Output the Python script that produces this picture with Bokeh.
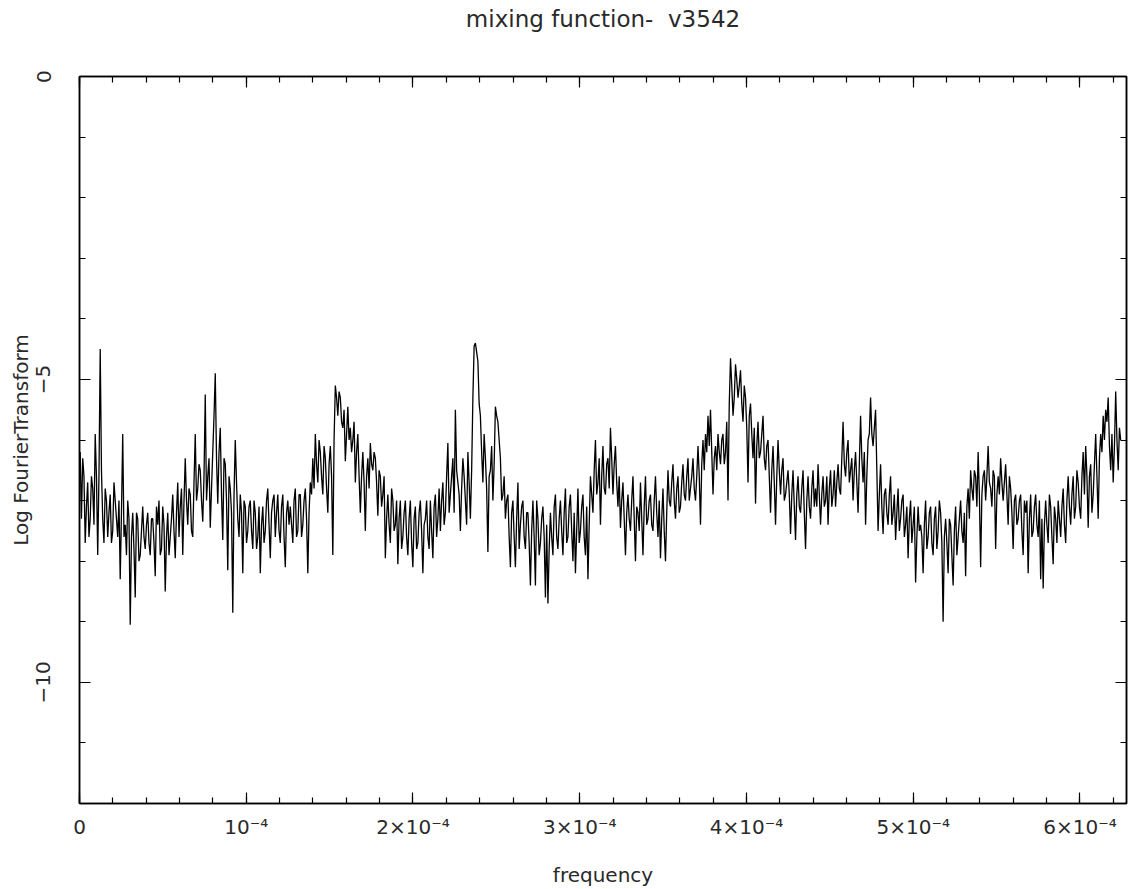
from bokeh.plotting import figure
from bokeh.models import FixedTicker, Range1d, LinearAxis, CustomJSTickFormatter
from bokeh.embed import file_html
from bokeh.resources import INLINE

TITLE = "mixing function- \u00a0v3542"
X_LABEL = "frequency"
Y_LABEL = "Log FourierTransform"

# uniform FFT frequency grid; each segment holds 42 bins (even bins + odd bins)
FREQ_START = 4.2e-7
FREQ_STEP = 1.5e-6
SEG_SPAN = 6.3e-5

# log10 |FT| of the mixing function: even bins of each segment
seg_01 = [-6.2, -6.3, -7.7, -6.7, -7.3, -6.8, -5.9, -7.9, -4.5, -7.3,
          -6.8, -7.6, -6.9, -7.5, -7.0, -7.6, -8.3, -5.9, -7.4, -7.0,
          -9.05, -7.2, -8.6, -7.3, -7.9, -7.1, -7.8, -7.2, -7.9, -7.3,
          -8.25, -7.4, -7.9, -7.1, -8.5, -7.2, -7.6, -6.9, -7.95, -6.7,
          -7.1, -7.9]
seg_02 = [-6.3, -7.4, -6.9, -7.6, -5.9, -6.8, -6.5, -7.35, -5.25, -6.6,
          -7.45, -6.2, -4.9, -7.05, -5.8, -7.65, -6.4, -8.15, -6.8, -8.85,
          -6.0, -7.3, -6.9, -8.2, -7.1, -7.5, -7.0, -7.8, -7.2, -7.6,
          -8.2, -7.1, -7.5, -6.8, -7.95, -7.0, -7.6, -6.9, -7.7, -6.9,
          -8.1, -7.0]
seg_03 = [-7.1, -7.7, -6.8, -7.5, -6.9, -7.4, -6.8, -8.2, -6.7, -6.3,
          -5.9, -6.7, -6.2, -6.9, -6.3, -7.2, -6.1, -7.9, -5.1, -5.6,
          -5.3, -5.8, -6.35, -5.45, -5.8, -6.0, -6.7, -5.9, -7.2, -6.2,
          -7.5, -6.3, -6.05, -6.5, -6.3, -7.25, -6.6, -6.9, -7.95, -6.9,
          -7.7, -7.0]
seg_04 = [-7.4, -8.05, -7.0, -7.6, -7.0, -7.9, -7.0, -8.1, -7.1, -7.7,
          -7.0, -8.2, -7.3, -7.6, -7.0, -7.95, -6.9, -7.3, -7.5, -6.7,
          -7.2, -6.05, -6.9, -6.3, -5.5, -6.7, -7.5, -6.3, -7.0, -6.2,
          -7.3, -5.3, -4.4, -4.7, -5.6, -6.7, -6.3, -7.85, -6.5, -7.0,
          -5.45, -5.7]
seg_05 = [-6.3, -6.9, -7.3, -6.9, -8.1, -7.0, -8.1, -6.7, -7.4, -7.0,
          -7.8, -7.2, -8.4, -7.0, -8.4, -7.3, -7.7, -7.1, -8.6, -8.7,
          -7.2, -7.9, -6.9, -7.8, -7.0, -7.9, -6.8, -7.6, -6.9, -8.0,
          -8.2, -6.8, -7.5, -6.9, -7.9, -8.3, -6.6, -7.2, -6.0, -6.7,
          -7.4, -6.1]
seg_06 = [-6.9, -6.3, -5.8, -6.9, -6.1, -7.1, -7.45, -6.7, -7.9, -6.9,
          -7.5, -6.6, -8.0, -7.2, -6.7, -7.9, -6.6, -7.3, -6.9, -7.5,
          -6.6, -7.6, -7.95, -6.8, -8.0, -6.5, -7.1, -6.4, -7.3, -6.6,
          -7.1, -6.4, -7.0, -6.3, -6.8, -6.3, -7.0, -6.1, -7.4, -6.0,
          -5.9, -5.6]
seg_07 = [-5.5, -6.9, -6.1, -5.9, -6.4, -5.9, -6.2, -7.0, -4.65, -5.6,
          -4.75, -5.3, -4.85, -5.7, -5.3, -6.7, -5.4, -6.3, -7.05, -5.7,
          -6.2, -5.6, -6.5, -6.0, -7.2, -6.1, -7.4, -6.0, -6.9, -6.3,
          -6.9, -6.5, -7.55, -6.5, -7.65, -6.6, -7.2, -6.5, -7.8, -6.6,
          -7.3, -6.5]
seg_08 = [-6.8, -6.4, -7.4, -6.6, -7.0, -7.4, -6.5, -6.9, -7.1, -6.4,
          -6.9, -5.7, -6.6, -6.0, -6.5, -7.0, -6.2, -7.2, -5.6, -6.7,
          -7.4, -6.0, -5.3, -6.1, -5.5, -7.5, -6.4, -7.55, -6.8, -7.4,
          -6.6, -7.2, -7.65, -6.8, -7.3, -6.9, -7.4, -7.95, -7.0, -7.4,
          -8.35, -7.1]
seg_09 = [-7.4, -8.2, -7.0, -7.6, -7.1, -7.9, -7.1, -7.5, -7.2, -9.0,
          -7.3, -8.2, -7.4, -8.4, -7.1, -7.6, -7.0, -7.7, -8.25, -6.8,
          -6.5, -7.0, -6.6, -6.2, -8.1, -6.6, -7.0, -6.1, -6.8, -6.5,
          -7.8, -6.6, -6.3, -7.0, -6.4, -7.4, -6.8, -7.8, -6.9, -7.3,
          -6.9, -7.9]
seg_10 = [-7.2, -8.2, -6.9, -7.5, -6.9, -7.6, -8.3, -8.45, -7.0, -7.7,
          -7.1, -8.05, -7.3, -7.0, -7.6, -6.8, -7.7, -6.6, -7.4, -6.6,
          -7.1, -6.7, -7.3, -6.2, -6.1, -7.45, -6.4, -6.9, -5.9, -7.3,
          -5.9, -5.6, -5.5, -5.3, -6.5, -6.7, -5.2, -6.5, -6.0]

# odd bins of each segment (between consecutive even bins)
odd_01 = [-7.3, -6.6, -7.1, -7.6, -6.6, -7.4, -6.6, -6.6, -6.5, -7.7,
          -7.0, -7.2, -7.7, -6.7, -7.3, -7.0, -7.2, -7.6, -7.9, -7.3,
          -7.6, -7.8, -7.2, -8.0, -7.5, -7.6, -7.4, -7.7, -7.3, -7.7,
          -7.1, -7.0, -7.8, -7.4, -7.6, -7.9, -7.3, -7.5, -7.2, -7.6,
          -6.8, -7.0]
odd_02 = [-7.0, -6.8, -7.5, -6.7, -7.0, -6.4, -7.0, -6.6, -7.0, -6.3,
          -6.8, -5.6, -6.3, -6.2, -6.9, -6.3, -7.0, -6.6, -7.2, -6.9,
          -6.7, -7.6, -7.2, -7.0, -7.7, -7.1, -7.5, -7.0, -7.8, -7.1,
          -7.4, -7.7, -7.0, -7.4, -7.2, -6.9, -7.2, -7.5, -7.1, -7.6,
          -7.2, -7.4]
odd_03 = [-7.4, -7.0, -7.6, -6.9, -7.6, -7.0, -7.3, -7.2, -6.9, -6.8,
          -6.4, -6.0, -6.6, -6.1, -6.8, -6.4, -6.6, -6.0, -5.3, -5.2,
          -5.7, -5.5, -5.9, -6.0, -6.2, -5.7, -6.2, -6.6, -6.6, -6.7,
          -6.6, -6.8, -6.4, -6.2, -6.7, -6.5, -7.1, -6.6, -7.3, -7.4,
          -6.8, -7.5]
odd_04 = [-7.0, -7.3, -7.8, -7.2, -7.6, -7.3, -7.7, -7.3, -7.8, -7.2,
          -7.5, -7.4, -7.0, -7.8, -7.5, -7.1, -7.6, -6.8, -7.0, -7.4,
          -6.6, -7.2, -6.6, -7.2, -6.5, -6.9, -6.8, -6.6, -7.4, -6.7,
          -6.5, -4.45, -4.55, -5.4, -6.2, -5.9, -6.8, -6.6, -6.1, -6.4,
          -5.6, -6.0]
odd_05 = [-7.0, -6.6, -7.0, -7.6, -7.2, -7.6, -7.3, -7.8, -7.1, -7.6,
          -7.2, -7.7, -7.5, -7.6, -7.0, -7.9, -7.3, -7.6, -7.4, -7.8,
          -7.6, -7.1, -7.6, -7.3, -7.5, -7.2, -7.7, -7.1, -7.5, -7.2,
          -7.5, -7.7, -7.1, -7.6, -7.1, -7.4, -6.9, -6.5, -6.9, -6.3,
          -6.6, -6.8]
odd_06 = [-6.4, -6.8, -6.3, -6.4, -6.7, -6.6, -7.0, -7.3, -7.2, -7.3,
          -7.0, -7.3, -7.1, -7.5, -7.3, -7.1, -7.4, -7.0, -7.4, -7.0,
          -7.2, -7.0, -7.3, -7.5, -7.2, -7.0, -6.7, -7.0, -6.8, -7.2,
          -6.7, -6.9, -6.6, -7.0, -6.6, -6.8, -6.6, -6.6, -6.4, -6.5,
          -6.2, -6.1]
odd_07 = [-6.2, -6.3, -6.5, -6.2, -6.0, -6.4, -5.7, -5.4, -5.1, -5.3,
          -5.0, -5.1, -5.4, -5.1, -5.8, -5.6, -5.9, -5.8, -6.1, -6.3,
          -5.9, -6.3, -6.1, -6.6, -6.5, -6.7, -6.6, -6.5, -6.5, -7.0,
          -6.7, -6.9, -6.9, -7.1, -6.9, -7.1, -6.8, -7.2, -7.0, -7.1,
          -6.8, -7.1]
odd_08 = [-7.1, -6.9, -6.9, -7.1, -6.6, -6.8, -7.1, -6.5, -6.7, -6.8,
          -6.3, -6.4, -6.2, -6.7, -6.3, -6.5, -6.7, -6.4, -6.3, -6.2,
          -6.6, -5.9, -5.9, -5.8, -6.5, -6.9, -7.1, -6.9, -7.2, -6.9,
          -7.4, -6.9, -7.2, -7.5, -7.0, -7.6, -7.1, -7.3, -7.7, -7.1,
          -7.6, -7.5]
odd_09 = [-7.6, -7.4, -7.8, -7.2, -7.7, -7.3, -7.8, -7.0, -7.7, -7.6,
          -7.7, -7.3, -7.9, -7.5, -7.9, -7.3, -7.5, -7.2, -7.1, -7.3,
          -6.8, -6.5, -7.1, -6.9, -6.9, -6.5, -6.6, -6.7, -7.1, -6.6,
          -6.9, -6.9, -6.7, -6.7, -6.9, -6.6, -7.2, -7.0, -7.4, -7.0,
          -7.5, -7.0]
odd_10 = [-7.0, -7.3, -7.6, -7.1, -7.4, -7.0, -7.3, -7.4, -7.4, -6.9,
          -7.6, -7.1, -7.7, -7.3, -7.1, -7.4, -7.0, -7.1, -6.9, -7.3,
          -6.5, -7.1, -6.6, -6.9, -6.6, -6.6, -7.2, -6.4, -6.6, -6.3,
          -6.2, -6.0, -5.7, -6.1, -5.9, -6.1, -6.0, -5.8]

even_bins = [seg_01, seg_02, seg_03, seg_04, seg_05,
             seg_06, seg_07, seg_08, seg_09, seg_10]
odd_bins = [odd_01, odd_02, odd_03, odd_04, odd_05,
            odd_06, odd_07, odd_08, odd_09, odd_10]

# axis ticks
x_major = [0, 1e-4, 2e-4, 3e-4, 4e-4, 5e-4, 6e-4]
x_major_labels = ["0", "10\u207b\u2074", "2\u00d710\u207b\u2074", "3\u00d710\u207b\u2074",
                  "4\u00d710\u207b\u2074", "5\u00d710\u207b\u2074", "6\u00d710\u207b\u2074"]
x_minor = [k * 2e-5 for k in range(32)]
y_major = [-10, -5, 0]
y_major_labels = ["\u221210", "\u22125", "0"]
y_minor = list(range(-12, 1))

X_MAX = 6.279e-4

freq, logft = [], []
for k, (ev, od) in enumerate(zip(even_bins, odd_bins)):
    for i, v in enumerate(ev):
        f0 = FREQ_START + k * SEG_SPAN + i * FREQ_STEP
        freq.append(f0)
        logft.append(v)
        if i < len(od):
            freq.append(f0 + FREQ_STEP / 2)
            logft.append(od[i])

FONT = "DejaVu Sans"
TEXT_COLOR = "#2a2a2a"

p = figure(width=1129, height=889, output_backend="svg", toolbar_location=None,
           x_range=Range1d(0, X_MAX), y_range=Range1d(-12, 0),
           min_border_left=79, min_border_right=3, min_border_top=76,
           min_border_bottom=82, background_fill_color="white",
           border_fill_color="white")
p.title = None
p.xgrid.visible = False
p.ygrid.visible = False
p.outline_line_color = "black"
p.outline_line_width = 1.5

p.line(freq, logft, line_color="black", line_width=1.3)

xt = FixedTicker(ticks=x_major, minor_ticks=x_minor)
yt = FixedTicker(ticks=y_major, minor_ticks=y_minor)


def style_axis(ax, ticker):
    ax.ticker = ticker
    ax.major_tick_in = 11
    ax.major_tick_out = 0
    ax.minor_tick_in = 6
    ax.minor_tick_out = 0
    ax.axis_line_color = "black"
    ax.axis_line_width = 1.5
    ax.major_tick_line_color = "black"
    ax.minor_tick_line_color = "black"
    ax.major_tick_line_width = 1.2
    ax.minor_tick_line_width = 1.2
    ax.major_label_text_font = FONT
    ax.major_label_text_font_size = "20px"
    ax.major_label_text_color = TEXT_COLOR
    ax.axis_label_text_font = FONT
    ax.axis_label_text_font_size = "20px"
    ax.axis_label_text_font_style = "normal"
    ax.axis_label_text_color = TEXT_COLOR


xa = p.xaxis[0]
style_axis(xa, xt)
xa.major_label_overrides = dict(zip(x_major, x_major_labels))
xa.major_label_standoff = 11
xa.axis_label = X_LABEL
xa.axis_label_standoff = 21

ya = p.yaxis[0]
style_axis(ya, yt)
ya.major_label_overrides = dict(zip(y_major, y_major_labels))
ya.major_label_orientation = "vertical"
ya.major_label_standoff = 29
ya.axis_label = Y_LABEL
ya.axis_label_standoff = 1

# top frame edge: ticks only, with the plot heading as its label
blank = CustomJSTickFormatter(code="return ''")
top = LinearAxis(formatter=blank, major_label_standoff=0)
style_axis(top, xt)
top.axis_label = TITLE
top.axis_label_text_font_size = "23px"
top.axis_label_standoff = 45
right = LinearAxis(formatter=blank, major_label_standoff=0)
style_axis(right, yt)
p.add_layout(top, "above")
p.add_layout(right, "right")

open("out.html", "w").write(file_html(p, INLINE))
